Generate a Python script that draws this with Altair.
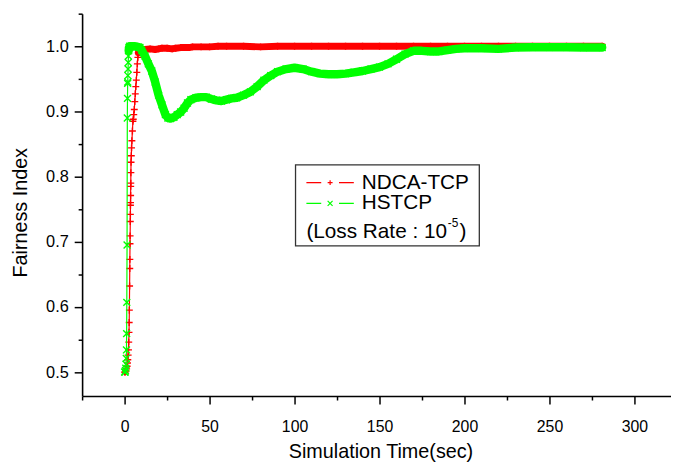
import altair as alt
import pandas as pd

FONT = "Liberation Sans"

series_names = ["NDCA-TCP", "HSTCP"]
series_colors = ["#ff0000", "#00ff00"]

ndca_t = [0, 0.4, 0.8, 1.2, 1.5, 1.7, 1.9, 2.1, 2.3, 2.45,
          2.6, 2.7, 2.8, 2.95, 3.05, 3.1, 3.2, 3.25, 3.35, 3.4,
          3.45, 3.5, 3.55, 3.6, 3.65, 3.7, 3.8, 3.95, 4.1, 4.3,
          4.6, 4.9, 5.1, 5.4, 5.7, 6.0, 6.3, 6.6, 6.9, 7.2,
          7.5, 7.8, 8.1, 8.5, 9,
          10, 12, 15, 18, 20, 22, 25, 28, 30, 33, 35, 38, 40, 45, 50, 55,
          60, 70, 80, 90, 100, 110, 120, 130, 140, 150, 160, 170, 180, 190,
          200, 210, 220, 230, 240, 250, 260, 270, 281]
ndca_v = [0.500, 0.500, 0.502, 0.505, 0.509, 0.514, 0.519, 0.526, 0.534, 0.546,
          0.561, 0.576, 0.595, 0.632, 0.659, 0.673, 0.697, 0.709, 0.731, 0.742,
          0.756, 0.760, 0.771, 0.785, 0.790, 0.806, 0.822, 0.832, 0.844, 0.855,
          0.870, 0.885, 0.888, 0.895, 0.903, 0.915, 0.927, 0.938, 0.948, 0.960,
          0.973, 0.983, 0.990, 0.995, 0.997,
          0.994, 0.995, 0.996, 0.995, 0.996, 0.997, 0.997, 0.996, 0.997, 0.998,
          0.998, 0.998, 0.999, 0.999, 0.999, 1.000,
          1.000, 1.000, 0.999, 1.000, 1.000, 1.000, 1.000, 1.000, 1.000, 1.000,
          1.000, 1.000, 1.000, 1.000, 1.000, 1.000, 1.000, 1.000, 1.000, 1.000,
          1.000, 1.000, 1.000]

hstcp_t = [0, 0.3, 0.5, 0.7, 0.85, 1.0, 1.1, 1.2, 1.3, 1.45,
           1.6, 1.7, 1.8, 1.85, 1.95, 2.05, 2.15, 2.25, 2.4, 2.6,
           3, 4, 5, 6, 7, 8, 9, 10, 12, 14,
           16, 18, 20, 22, 24, 25.5, 27, 29, 31, 33,
           35, 37, 39, 42, 45, 48, 51, 54, 57, 60,
           63, 66, 70, 74, 78, 82, 86, 90, 95, 100,
           105, 110, 115, 120, 125, 130, 135, 140, 145, 150,
           155, 160, 165, 170, 175, 180, 185, 190, 195, 200,
           210, 220, 230, 240, 250, 260, 270, 281]
hstcp_v = [0.500, 0.500, 0.502, 0.506, 0.512, 0.521, 0.534, 0.559, 0.607, 0.695,
           0.890, 0.920, 0.943, 0.945, 0.955, 0.965, 0.975, 0.985, 0.993, 0.998,
           1.000, 1.000, 1.000, 1.000, 0.999, 0.999, 0.998, 0.994, 0.985, 0.973,
           0.962, 0.945, 0.925, 0.910, 0.895, 0.890, 0.889, 0.891, 0.895, 0.899,
           0.905, 0.913, 0.918, 0.921, 0.922, 0.922, 0.919, 0.917, 0.916, 0.918,
           0.920, 0.921, 0.925, 0.930, 0.938, 0.948, 0.955, 0.961, 0.965, 0.967,
           0.965, 0.961, 0.958, 0.957, 0.957, 0.958, 0.960, 0.962, 0.965, 0.968,
           0.973, 0.980, 0.988, 0.993, 0.993, 0.992, 0.992, 0.994, 0.996, 0.997,
           0.997, 0.996, 0.998, 0.9985, 0.9985, 0.9985, 0.998, 0.998]

x_tick_values = [-25, 0, 25, 50, 75, 100, 125, 150, 175, 200, 225, 250, 275, 300]
y_tick_values = [0.5, 0.55, 0.6, 0.65, 0.7, 0.75, 0.8, 0.85, 0.9, 0.95, 1.0, 1.05]
x_domain = [-25, 321.5]
y_domain = [0.4632, 1.05]

legend_note = "(Loss Rate : 10"
legend_exp = "-5"

# styling per series
band_start = {"NDCA-TCP": 8.1, "HSTCP": 2.4}
band_width = {"NDCA-TCP": 7, "HSTCP": 8.5}
marker_path = {"NDCA-TCP": "M-1,0L1,0M0,-1L0,1", "HSTCP": "M-1,-1L1,1M-1,1L1,-1"}

frames = []
for name, ts, vs in [(series_names[0], ndca_t, ndca_v), (series_names[1], hstcp_t, hstcp_v)]:
    d = pd.DataFrame({"t": ts, "v": vs})
    d["series"] = name
    d["band"] = d["t"] >= band_start[name]
    frames.append(d)

x_enc = alt.X("t:Q", scale=alt.Scale(domain=x_domain, nice=False, zero=False),
              axis=alt.Axis(values=x_tick_values, labelExpr="datum.value % 50 === 0 ? datum.label : ''",
                            tickSize={"condition": {"test": "datum.value % 50 === 0", "value": 8}, "value": 4},
                            grid=False, domainColor="black", domainWidth=1.6, tickColor="black", tickWidth=1.5,
                            labelFont=FONT, labelFontSize=16, labelColor="black", labelPadding=15,
                            labelOverlap=False, labelFlush=False, format="d",
                            title="Simulation Time(sec)", titleFont=FONT, titleFontSize=20,
                            titleFontWeight="normal", titleColor="black",
                            titleBaseline="middle", titleY=56, titleX=302))
y_enc = alt.Y("v:Q", scale=alt.Scale(domain=y_domain, nice=False, zero=False),
              axis=alt.Axis(values=y_tick_values,
                            labelExpr="round(datum.value * 100) % 10 === 0 ? datum.label : ''",
                            tickSize={"condition": {"test": "round(datum.value * 100) % 10 === 0", "value": 8}, "value": 4},
                            format=".1f", grid=False, domainColor="black", domainWidth=1.6,
                            tickColor="black", tickWidth=1.5, labelFont=FONT, labelFontSize=16.5,
                            labelColor="black", labelPadding=6, labelOverlap=False, labelFlush=False,
                            title="Fairness Index", titleFont=FONT, titleFontSize=20,
                            titleFontWeight="normal", titleColor="black",
                            titleBaseline="middle", titleX=-62, titleY=201))

layers = []
for i, d in enumerate(frames):
    name = series_names[i]
    col = series_colors[i]
    base = alt.Chart(d)
    thin = base.mark_line(color=col, strokeWidth=1.2).encode(x=x_enc, y=y_enc, order="t:Q")
    thick = base.transform_filter("datum.band").mark_line(
        color=col, strokeWidth=band_width[name], strokeJoin="round", strokeCap="round"
    ).encode(x=x_enc, y=y_enc, order="t:Q")
    pts = base.mark_point(shape=marker_path[name], filled=False, size=49, color=col,
                          strokeWidth=1.4, opacity=1).encode(x=x_enc, y=y_enc)
    layers += [thin, thick, pts]

one = pd.DataFrame({"a": [0]})
box = alt.Chart(one).mark_rect(fill="white", stroke="#333333", strokeWidth=1.3).encode(
    x=alt.value(216), x2=alt.value(402), y=alt.value(153), y2=alt.value(235))
layers.append(box)

entry_y = [171, 192]
for i, name in enumerate(series_names):
    col = series_colors[i]
    yy = entry_y[i]
    layers.append(alt.Chart(one).mark_rule(color=col, strokeWidth=1.3).encode(
        x=alt.value(227), x2=alt.value(242), y=alt.value(yy)))
    layers.append(alt.Chart(one).mark_rule(color=col, strokeWidth=1.3).encode(
        x=alt.value(260), x2=alt.value(275), y=alt.value(yy)))
    layers.append(alt.Chart(one).mark_point(shape=marker_path[name], filled=False, size=25,
                                            color=col, strokeWidth=1.2, opacity=1).encode(
        x=alt.value(251), y=alt.value(yy)))
    layers.append(alt.Chart(pd.DataFrame({"name": [name]})).mark_text(
        align="left", baseline="middle", font=FONT, fontSize=21, color="black").encode(
        x=alt.value(283), y=alt.value(yy), text="name:N"))

layers.append(alt.Chart(one).mark_text(align="left", baseline="middle", font=FONT, fontSize=21,
                                       color="black").encode(
    x=alt.value(227), y=alt.value(221), text=alt.value(legend_note)))
layers.append(alt.Chart(one).mark_text(align="left", baseline="middle", font=FONT, fontSize=12,
                                       color="black").encode(
    x=alt.value(370), y=alt.value(212), text=alt.value(legend_exp)))
layers.append(alt.Chart(one).mark_text(align="left", baseline="middle", font=FONT, fontSize=21,
                                       color="black").encode(
    x=alt.value(382), y=alt.value(221), text=alt.value(")")))

chart = alt.layer(*layers).properties(
    width=596, height=387,
    autosize=alt.AutoSizeParams(type="none"),
    padding={"left": 75, "top": 3, "right": 0, "bottom": 64},
    background="white",
).configure_view(strokeWidth=0)

chart.save("out.html", embed_options={"renderer": "svg", "actions": False})
